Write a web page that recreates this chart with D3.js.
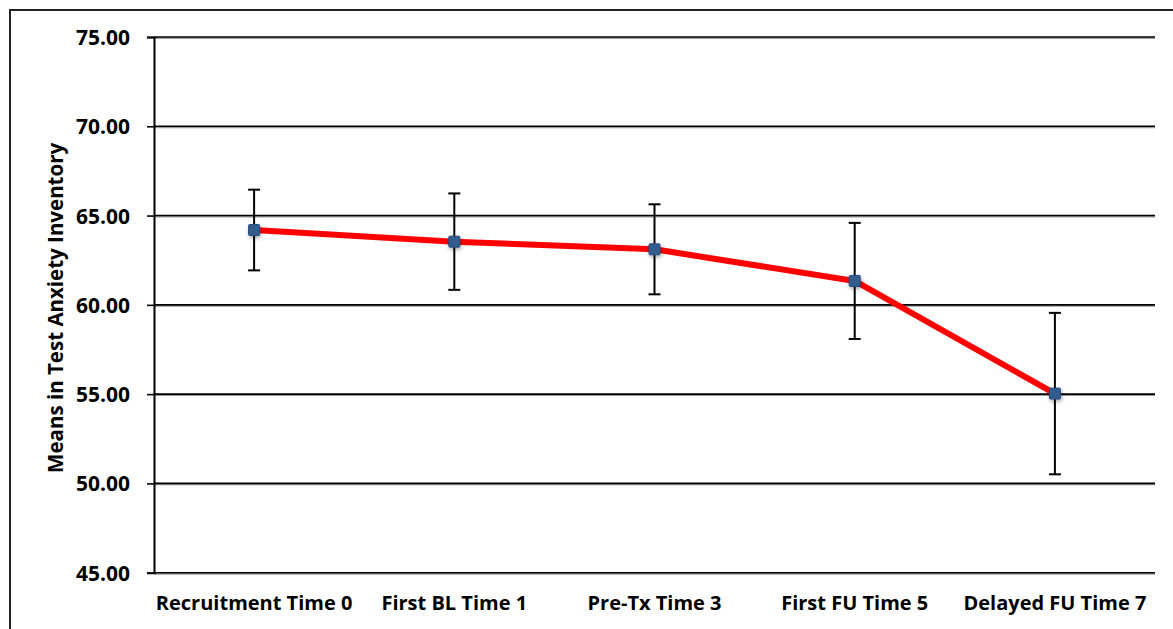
<!DOCTYPE html>
<html>
<head>
<meta charset="utf-8">
<script src="https://cdn.jsdelivr.net/npm/d3@7"></script>
<style>
  body { margin: 0; background: #fff; }
  svg text { font-family: "Open Sans", Lato, sans-serif; font-weight: bold; fill: #000; }
</style>
</head>
<body>
<div id="chart"></div>
<script>
// chart data
const categories = ["Recruitment Time 0", "First BL Time 1", "Pre-Tx Time 3", "First FU Time 5", "Delayed FU Time 7"];
const means = [64.19, 63.54, 63.11, 61.34, 55.03];
const errors = [2.26, 2.70, 2.52, 3.25, 4.52];
const yTicks = [45, 50, 55, 60, 65, 70, 75];

const width = 1173, height = 629;
const plot = { left: 154, right: 1155, top: 37, bottom: 572.7 };

const svg = d3.select("#chart").append("svg")
    .attr("width", width)
    .attr("height", height);

// soft shadow for the markers
const defs = svg.append("defs");
const shadow = defs.append("filter").attr("id", "shadow")
    .attr("x", "-60%").attr("y", "-60%").attr("width", "220%").attr("height", "220%");
shadow.append("feGaussianBlur").attr("in", "SourceAlpha").attr("stdDeviation", 2);
shadow.append("feOffset").attr("dx", 1).attr("dy", 2).attr("result", "b");
shadow.append("feComponentTransfer").append("feFuncA").attr("type", "linear").attr("slope", 0.35);
const merge = shadow.append("feMerge");
merge.append("feMergeNode");
merge.append("feMergeNode").attr("in", "SourceGraphic");

// outer frame (top + left only)
svg.append("path")
    .attr("d", `M10,${height} L10,10 L${width},10`)
    .attr("fill", "none")
    .attr("stroke", "#222")
    .attr("stroke-width", 2);

const x = d3.scaleBand()
    .domain(categories)
    .range([plot.left, plot.right]);

const y = d3.scaleLinear()
    .domain([45, 75])
    .range([plot.bottom, plot.top]);

// gridlines, with a grey shadow underneath
const grid = svg.append("g");
grid.selectAll(".shade")
    .data(yTicks)
    .enter().append("line")
    .attr("x1", plot.left).attr("x2", plot.right)
    .attr("y1", d => y(d) + 1.2).attr("y2", d => y(d) + 1.2)
    .attr("stroke", "#9a9a9a")
    .attr("stroke-width", 1.5);
grid.selectAll(".grid")
    .data(yTicks)
    .enter().append("line")
    .attr("x1", plot.left).attr("x2", plot.right)
    .attr("y1", d => y(d)).attr("y2", d => y(d))
    .attr("stroke", "#000")
    .attr("stroke-width", 1.6);

// y axis
const yAxis = d3.axisLeft(y)
    .tickValues(yTicks)
    .tickFormat(d3.format(".2f"))
    .tickSize(7)
    .tickPadding(17);

const gy = svg.append("g")
    .attr("transform", `translate(${plot.left},0)`)
    .call(yAxis);
gy.select(".domain").attr("stroke", "#000").attr("stroke-width", 2);
gy.selectAll(".tick line").attr("stroke", "#000").attr("stroke-width", 1.6);
gy.selectAll(".tick text")
    .style("font-size", "21px")
    .attr("dy", "0.36em");

// x axis labels
const xAxis = d3.axisBottom(x).tickSize(0).tickPadding(23);
const gx = svg.append("g")
    .attr("transform", `translate(0,${plot.bottom})`)
    .call(xAxis);
gx.select(".domain").remove();
gx.selectAll(".tick text").style("font-size", "20px");

// y axis title
svg.append("text")
    .attr("transform", `translate(63,${(plot.top + plot.bottom) / 2 + 3}) rotate(-90)`)
    .attr("text-anchor", "middle")
    .style("font-size", "20.5px")
    .text("Means in Test Anxiety Inventory");

const cx = d => x(d) + x.bandwidth() / 2;

// error bars
const eb = svg.append("g").selectAll("g")
    .data(categories)
    .enter().append("g")
    .attr("stroke", "#000")
    .attr("stroke-width", 2);
eb.append("line")
    .attr("x1", d => cx(d)).attr("x2", d => cx(d))
    .attr("y1", (d, i) => y(means[i] + errors[i]))
    .attr("y2", (d, i) => y(means[i] - errors[i]));
eb.append("line")
    .attr("x1", d => cx(d) - 6).attr("x2", d => cx(d) + 6)
    .attr("y1", (d, i) => y(means[i] + errors[i]))
    .attr("y2", (d, i) => y(means[i] + errors[i]));
eb.append("line")
    .attr("x1", d => cx(d) - 6).attr("x2", d => cx(d) + 6)
    .attr("y1", (d, i) => y(means[i] - errors[i]))
    .attr("y2", (d, i) => y(means[i] - errors[i]));

// mean line
const line = d3.line()
    .x((d, i) => cx(categories[i]))
    .y(d => y(d));

svg.append("path")
    .datum(means)
    .attr("d", line)
    .attr("fill", "none")
    .attr("stroke", "#ff0000")
    .attr("stroke-width", 6)
    .attr("stroke-linejoin", "round");

// square markers
svg.append("g").selectAll("rect")
    .data(means)
    .enter().append("rect")
    .attr("x", (d, i) => cx(categories[i]) - 5.5)
    .attr("y", d => y(d) - 5.5)
    .attr("width", 11)
    .attr("height", 11)
    .attr("rx", 1)
    .attr("fill", "#335b8e")
    .attr("stroke", "#2a4c7a")
    .attr("stroke-width", 1)
    .attr("filter", "url(#shadow)");
</script>
</body>
</html>
